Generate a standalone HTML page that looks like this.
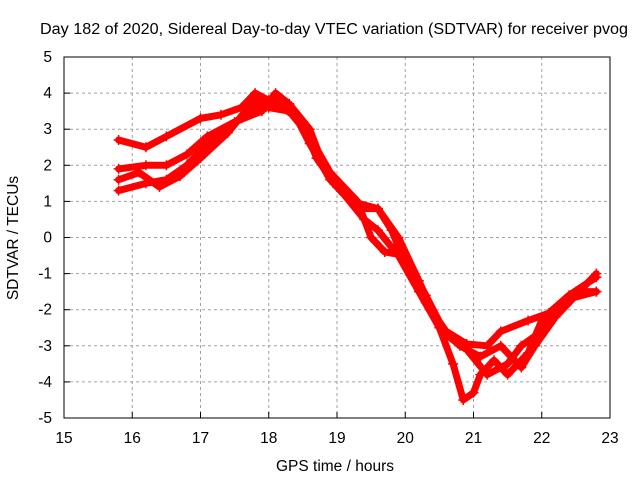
<!DOCTYPE html>
<html><head><meta charset="utf-8"><style>
body{margin:0;background:#fff}
svg{display:block;font-family:"Liberation Sans",sans-serif;font-size:15.5px}
</style></head><body>
<svg id="c" width="640" height="480">
<text x="334" y="34" text-anchor="middle" textLength="588" lengthAdjust="spacingAndGlyphs">Day 182 of 2020, Sidereal Day-to-day VTEC variation (SDTVAR) for receiver pvog</text>
<text x="335" y="471" text-anchor="middle">GPS time / hours</text>
<text transform="translate(18,238) rotate(-90)" text-anchor="middle">SDTVAR / TECUs</text>
<g id="grid"></g><g id="marks"></g>
<rect x="64" y="57" width="546" height="361" fill="none" stroke="#000"/>
</svg>
<script>
const xTicks=[15,16,17,18,19,20,21,22,23];
const yTicks=[-5,-4,-3,-2,-1,0,1,2,3,4,5];
const traceA=[[15.8,2.7],[16.2,2.5],[16.5,2.8],[17,3.3],[17.3,3.4],[17.6,3.6],[17.8,4.0],[18,3.8],[18.2,3.6],[18.5,3.2],[18.7,2.2],[19,1.4],[19.3,0.8],[19.6,0.8],[19.8,0.2],[20,-0.7],[20.3,-1.8],[20.6,-2.6],[20.9,-2.95],[21.2,-3.0],[21.4,-2.6],[21.8,-2.3],[22.1,-2.1],[22.4,-1.6],[22.8,-1.1]];
const traceB=[[15.8,1.3],[16.2,1.5],[16.5,1.6],[16.8,2.0],[17.2,2.8],[17.6,3.3],[17.8,3.6],[18,3.8],[18.3,3.7],[18.6,3.0],[18.8,2.0],[19.1,1.2],[19.4,0.5],[19.6,0.2],[19.9,-0.5],[20.2,-1.5],[20.5,-2.5],[20.7,-3.5],[20.85,-4.5],[21,-4.3],[21.1,-3.8],[21.3,-3.4],[21.5,-3.8],[21.8,-3.2],[22,-2.3],[22.4,-1.7],[22.8,-1.5]];
const traceC=[[15.8,1.9],[16.2,2.0],[16.5,2.0],[16.8,2.3],[17.1,2.8],[17.5,3.2],[17.9,3.5],[18.1,4.0],[18.3,3.7],[18.6,2.6],[18.9,1.6],[19.2,1.0],[19.6,0.8],[19.9,0.0],[20.2,-1.2],[20.5,-2.5],[20.8,-3.0],[21.1,-3.3],[21.4,-3.0],[21.7,-3.6],[21.9,-3.0],[22.2,-2.2],[22.6,-1.4],[22.8,-1.0]];
const traceD=[[15.8,1.6],[16.1,1.8],[16.4,1.4],[16.7,1.7],[17,2.2],[17.4,2.9],[17.7,3.6],[17.85,3.9],[18,3.6],[18.3,3.5],[18.6,2.8],[18.9,1.8],[19.3,1.0],[19.5,0.0],[19.7,-0.4],[20,-0.5],[20.3,-1.6],[20.6,-2.7],[20.9,-3.1],[21.2,-3.8],[21.5,-3.5],[21.7,-3.0],[22,-2.6],[22.5,-1.5],[22.8,-1.5]];
const NS='http://www.w3.org/2000/svg';
const X=v=>64+(v-15)*546/8, Y=v=>418-(v+5)*361/10;
const grid=document.getElementById('grid'), marks=document.getElementById('marks'), svg=document.getElementById('c');
function mk(t,a,p){const e=document.createElementNS(NS,t);for(const k in a)e.setAttribute(k,a[k]);p.appendChild(e);return e;}
xTicks.forEach(v=>{
 if(v>15&&v<23){const g=mk('line',{x1:X(v),x2:X(v),y1:57,y2:418,stroke:'#a0a0a0','stroke-dasharray':'3,3'},grid);
 
 }
 mk('line',{x1:X(v),x2:X(v),y1:418,y2:412,stroke:'#000'},grid);
 const t=mk('text',{x:X(v),y:443,'text-anchor':'middle'},svg);t.textContent=v;
 
 
});
yTicks.forEach(v=>{
 if(v>-5&&v<5){const g=mk('line',{x1:64,x2:610,y1:Y(v),y2:Y(v),stroke:'#a0a0a0','stroke-dasharray':'3,3'},grid);
 
 }
 mk('line',{x1:64,x2:70,y1:Y(v),y2:Y(v),stroke:'#000'},grid);
 const t=mk('text',{x:52,y:Y(v)+5,'text-anchor':'end'},svg);t.textContent=v;
 
 
});
[traceA,traceB,traceC,traceD].forEach((tr,i)=>{
 const pl=mk('polyline',{points:tr.map(p=>X(p[0])+','+Y(p[1])).join(' '),fill:'none',stroke:'#f00','stroke-width':7,'stroke-linejoin':'round','stroke-linecap':'round'},marks);
 
 
 tr.forEach(p=>{
  const m=mk('path',{d:`M${X(p[0])-5},${Y(p[1])}h10M${X(p[0])},${Y(p[1])-5}v10`,stroke:'#f00','stroke-width':1.5},marks);
  
  
 });
});
</script>
</body></html>
